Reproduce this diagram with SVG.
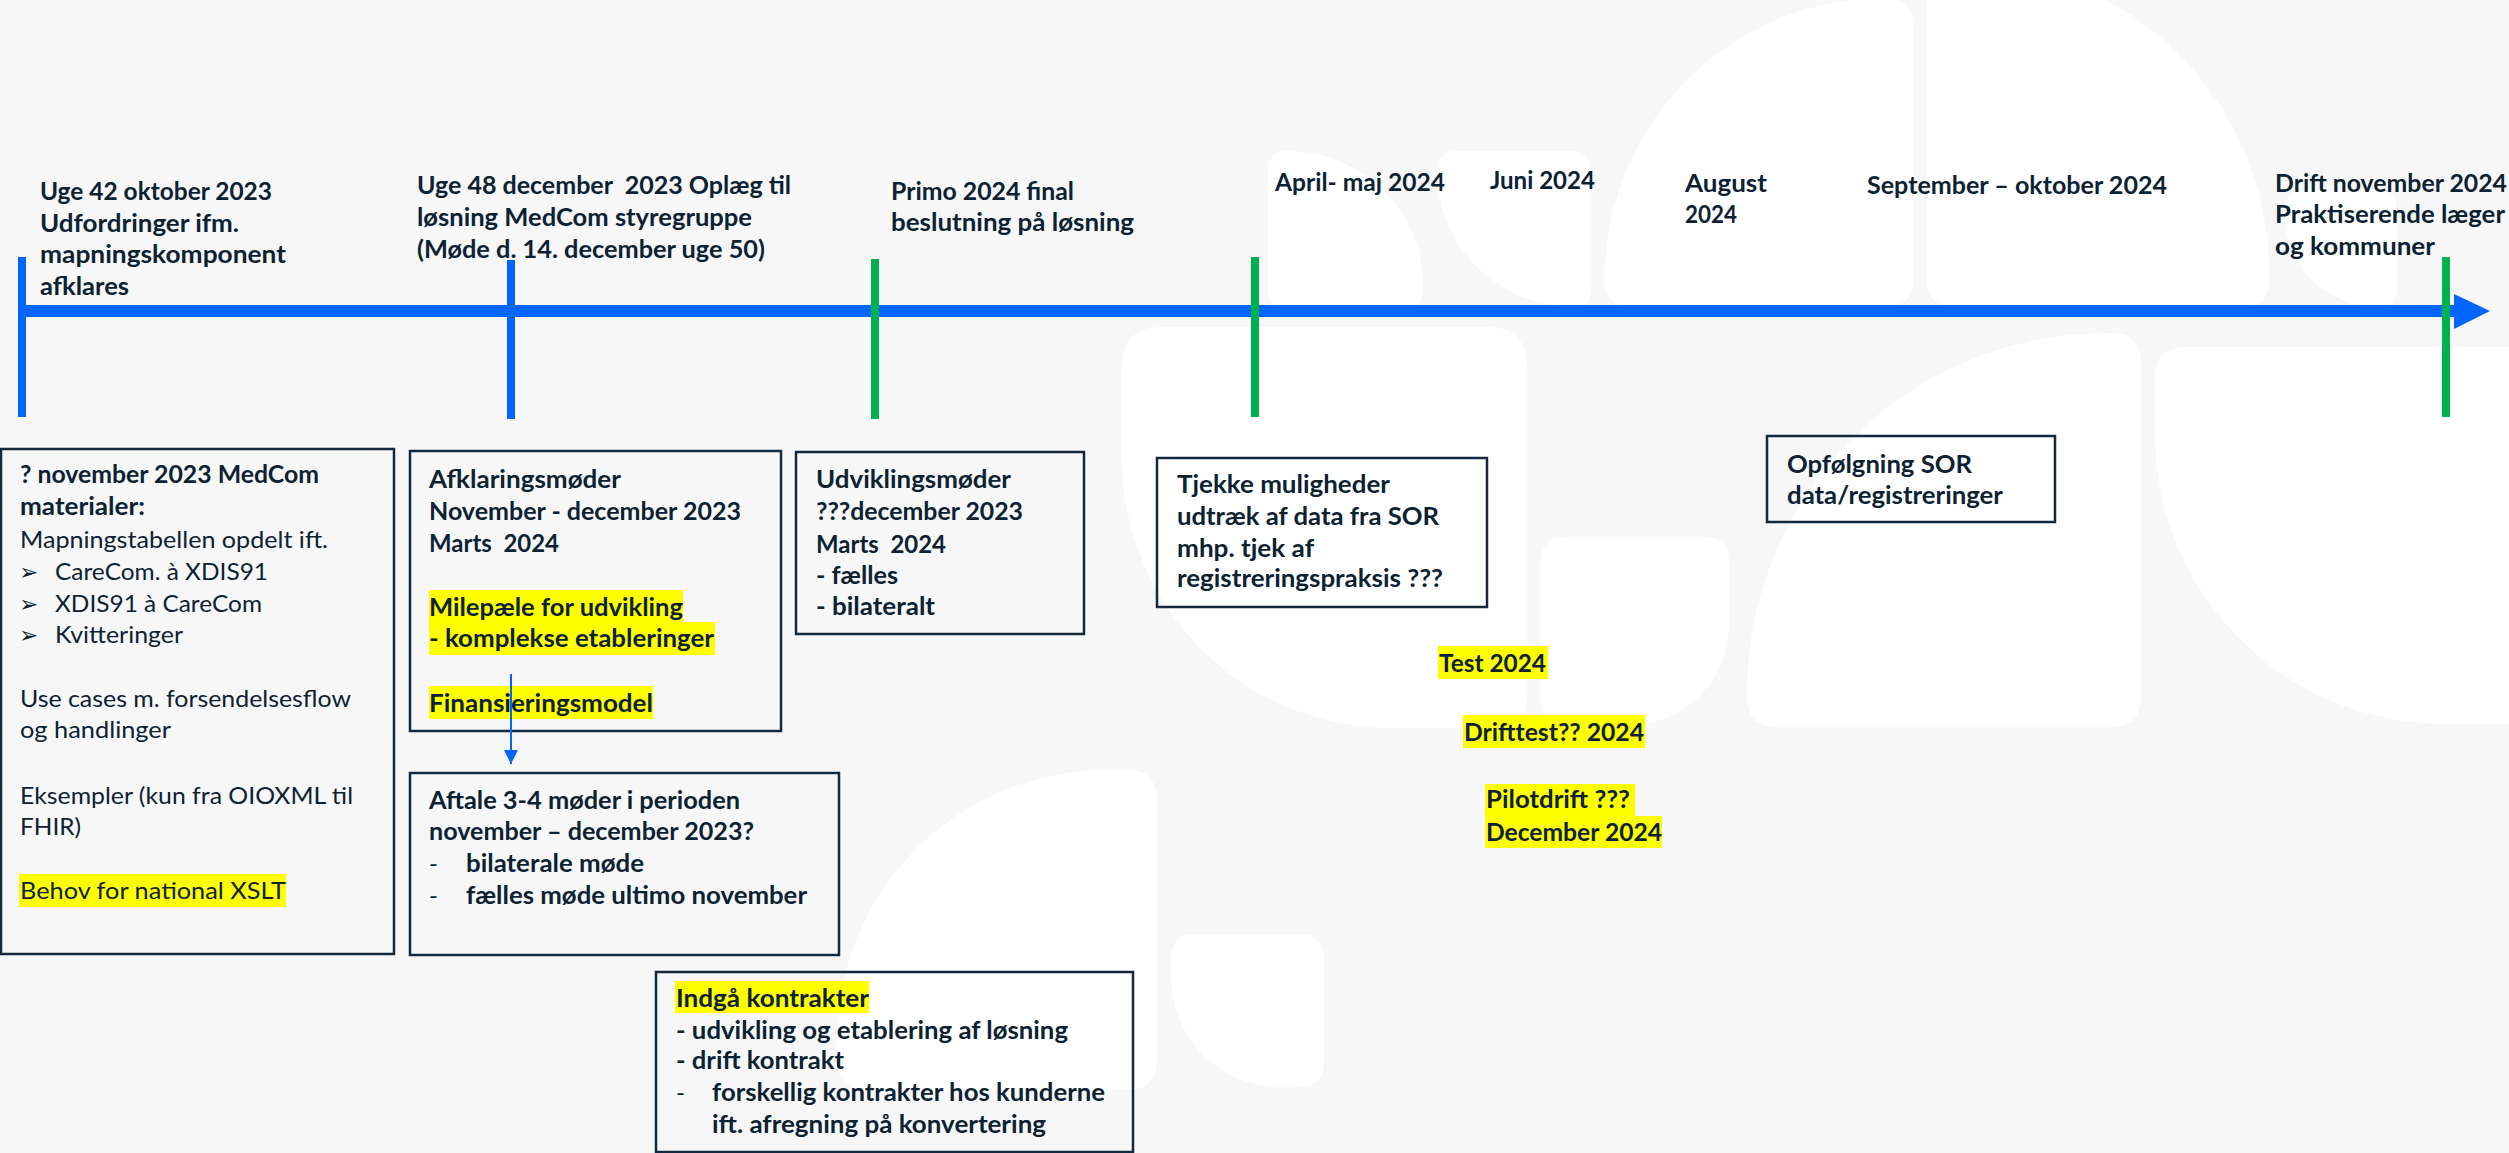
<svg xmlns="http://www.w3.org/2000/svg" width="2509" height="1153" viewBox="0 0 2509 1153">
<defs>
<style>
.bgshape{fill:#ffffff}
.box{fill:none;stroke:#13293d;stroke-width:2.5}
.t{font-family:Lato,"Open Sans","Liberation Sans",sans-serif;font-size:24px;font-weight:700;fill:#0c2233;white-space:pre}
.r{font-weight:400}
.hl{fill:#ffff00}
.bul{font-family:"DejaVu Sans",sans-serif;font-size:23px;fill:#0c2233}
.blue{fill:#0066ff}
.green{fill:#00b050}
.conn{stroke:#0066ff;stroke-width:2;fill:none}
</style>
<marker id="ah" viewBox="0 0 10 10" refX="10" refY="5" markerWidth="7.5" markerHeight="7" markerUnits="strokeWidth" orient="auto">
<path d="M0,0 L10,5 L0,10 z" fill="#0066ff"/>
</marker>
</defs>

<g id="background">
<rect x="0" y="0" width="2509" height="1153" fill="#f7f7f7"/>
<path class="bgshape" d="M1162,327 L1487,327 Q1527,327 1527,367 L1527,698 Q1527,728 1497,728 L1392,728 A270 270 0 0 1 1122,458 L1122,367 Q1122,327 1162,327 Z"/>
<path class="bgshape" d="M1268,171 Q1268,151 1288,151 A135 135 0 0 1 1423,286 L1423,291 Q1423,306 1408,306 L1283,306 Q1268,306 1268,291 Z"/>
<path class="bgshape" d="M1457,151 L1571,151 Q1591,151 1591,171 L1591,291 Q1591,306 1576,306 L1572,306 A135 135 0 0 1 1437,171 Q1437,151 1457,151 Z"/>
<path class="bgshape" d="M1605,278 A280 280 0 0 1 1885,-2 Q1913,-2 1913,26 L1913,281 Q1913,306 1888,306 L1630,306 Q1605,306 1605,281 Z"/>
<path class="bgshape" d="M1927,-37 L1959,-37 A310 310 0 0 1 2269,273 L2269,281 Q2269,306 2244,306 L1952,306 Q1927,306 1927,281 Z"/>
<path class="bgshape" d="M2305,190 L2377,190 Q2397,190 2397,210 L2397,291 Q2397,306 2382,306 L2375,306 A90 90 0 0 1 2285,216 L2285,210 Q2285,190 2305,190 Z"/>
<path class="bgshape" d="M1747,693 A360 360 0 0 1 2107,333 L2111,333 Q2141,333 2141,363 L2141,697 Q2141,727 2111,727 L1777,727 Q1747,727 1747,697 Z"/>
<path class="bgshape" d="M2185,347 L2520,347 L2520,724 L2445,724 A290 290 0 0 1 2155,434 L2155,377 Q2155,347 2185,347 Z"/>
<path class="bgshape" d="M1566,537 L1704,537 Q1729,537 1729,562 L1729,625 A100 100 0 0 1 1629,725 L1566,725 Q1541,725 1541,700 L1541,562 Q1541,537 1566,537 Z"/>
<path class="bgshape" d="M837,1040 A270 270 0 0 1 1107,770 L1127,770 Q1157,770 1157,800 L1157,1060 Q1157,1090 1127,1090 L867,1090 Q837,1090 837,1060 Z"/>
<path class="bgshape" d="M1196,934 L1299,934 Q1324,934 1324,959 L1324,1062 Q1324,1087 1299,1087 L1281,1087 A110 110 0 0 1 1171,977 L1171,959 Q1171,934 1196,934 Z"/>
</g>

<g id="timeline">
<rect class="blue" x="20" y="305" width="2436" height="12"/>
<polygon class="blue" points="2454,294 2490,311 2454,329"/>
<rect class="blue" x="18" y="257" width="8" height="160"/>
<rect class="blue" x="507" y="260" width="8" height="159"/>
<rect class="green" x="871" y="259" width="8" height="160"/>
<rect class="green" x="1251" y="257" width="8" height="160"/>
<rect class="green" x="2442" y="257" width="8" height="160"/>
</g>

<g id="label-uge42">
<text class="t" x="40" y="200" textLength="232" lengthAdjust="spacingAndGlyphs">Uge 42 oktober 2023</text>
<text class="t" x="40" y="231.5" textLength="199" lengthAdjust="spacingAndGlyphs">Udfordringer ifm.</text>
<text class="t" x="40" y="263" textLength="246" lengthAdjust="spacingAndGlyphs">mapningskomponent</text>
<text class="t" x="40" y="294.5" textLength="89" lengthAdjust="spacingAndGlyphs">afklares</text>
</g>

<g id="label-uge48">
<text class="t" x="417" y="194" textLength="374" lengthAdjust="spacingAndGlyphs">Uge 48 december  2023 Oplæg til</text>
<text class="t" x="417" y="226" textLength="335" lengthAdjust="spacingAndGlyphs">løsning MedCom styregruppe</text>
<text class="t" x="417" y="258" textLength="348" lengthAdjust="spacingAndGlyphs">(Møde d. 14. december uge 50)</text>
</g>

<g id="label-primo">
<text class="t" x="891" y="200" textLength="183" lengthAdjust="spacingAndGlyphs">Primo 2024 final</text>
<text class="t" x="891" y="231" textLength="243" lengthAdjust="spacingAndGlyphs">beslutning på løsning</text>
</g>

<g id="label-april">
<text class="t" x="1275" y="191" textLength="170" lengthAdjust="spacingAndGlyphs">April- maj 2024</text>
</g>

<g id="label-juni">
<text class="t" x="1490" y="189" textLength="105" lengthAdjust="spacingAndGlyphs">Juni 2024</text>
</g>

<g id="label-august">
<text class="t" x="1685" y="192" textLength="82" lengthAdjust="spacingAndGlyphs">August</text>
<text class="t" x="1685" y="223" textLength="52" lengthAdjust="spacingAndGlyphs">2024</text>
</g>

<g id="label-september">
<text class="t" x="1867" y="194" textLength="300" lengthAdjust="spacingAndGlyphs">September – oktober 2024</text>
</g>

<g id="label-drift">
<text class="t" x="2275" y="192" textLength="232" lengthAdjust="spacingAndGlyphs">Drift november 2024</text>
<text class="t" x="2275" y="223" textLength="230" lengthAdjust="spacingAndGlyphs">Praktiserende læger</text>
<text class="t" x="2275" y="255" textLength="160" lengthAdjust="spacingAndGlyphs">og kommuner</text>
</g>

<g id="box-medcom">
<rect class="box" x="1" y="449" width="393" height="505"/>
<rect class="hl" x="19" y="874" width="267" height="33"/>
<text class="t" x="20" y="483" textLength="299" lengthAdjust="spacingAndGlyphs">? november 2023 MedCom</text>
<text class="t" x="20" y="515" textLength="125" lengthAdjust="spacingAndGlyphs">materialer:</text>
<text class="t r" x="20" y="548" textLength="308" lengthAdjust="spacingAndGlyphs">Mapningstabellen opdelt ift.</text>
<text class="bul" x="19" y="580">➢</text>
<text class="t r" x="55" y="580" textLength="213" lengthAdjust="spacingAndGlyphs">CareCom. à XDIS91</text>
<text class="bul" x="19" y="612">➢</text>
<text class="t r" x="55" y="612" textLength="207" lengthAdjust="spacingAndGlyphs">XDIS91 à CareCom</text>
<text class="bul" x="19" y="643">➢</text>
<text class="t r" x="55" y="643" textLength="128" lengthAdjust="spacingAndGlyphs">Kvitteringer</text>
<text class="t r" x="20" y="707" textLength="331" lengthAdjust="spacingAndGlyphs">Use cases m. forsendelsesflow</text>
<text class="t r" x="20" y="738" textLength="151" lengthAdjust="spacingAndGlyphs">og handlinger</text>
<text class="t r" x="20" y="804" textLength="333" lengthAdjust="spacingAndGlyphs">Eksempler (kun fra OIOXML til</text>
<text class="t r" x="20" y="835" textLength="61" lengthAdjust="spacingAndGlyphs">FHIR)</text>
<text class="t r" x="20" y="899" textLength="266" lengthAdjust="spacingAndGlyphs">Behov for national XSLT</text>
</g>

<g id="box-afklaring">
<rect class="box" x="410" y="451" width="371" height="280"/>
<rect class="hl" x="429" y="590" width="254" height="32"/>
<rect class="hl" x="429" y="622" width="286" height="33"/>
<rect class="hl" x="429" y="686" width="224" height="33"/>
<text class="t" x="429" y="488" textLength="192" lengthAdjust="spacingAndGlyphs">Afklaringsmøder</text>
<text class="t" x="429" y="520" textLength="312" lengthAdjust="spacingAndGlyphs">November - december 2023</text>
<text class="t" x="429" y="552" textLength="130" lengthAdjust="spacingAndGlyphs">Marts  2024</text>
<text class="t" x="429" y="616" textLength="254" lengthAdjust="spacingAndGlyphs">Milepæle for udvikling</text>
<text class="t" x="429" y="647" textLength="285" lengthAdjust="spacingAndGlyphs">- komplekse etableringer</text>
<text class="t" x="429" y="712" textLength="224" lengthAdjust="spacingAndGlyphs">Finansieringsmodel</text>
</g>

<g id="box-aftale">
<rect class="box" x="410" y="773" width="429" height="182"/>
<text class="t" x="429" y="809" textLength="311" lengthAdjust="spacingAndGlyphs">Aftale 3-4 møder i perioden</text>
<text class="t" x="429" y="840" textLength="325" lengthAdjust="spacingAndGlyphs">november – december 2023?</text>
<text class="t r" x="429" y="872">-</text>
<text class="t" x="466" y="872" textLength="178" lengthAdjust="spacingAndGlyphs">bilaterale møde</text>
<text class="t r" x="429" y="904">-</text>
<text class="t" x="466" y="904" textLength="341" lengthAdjust="spacingAndGlyphs">fælles møde ultimo november</text>
</g>

<g id="box-udvikling">
<rect class="box" x="796" y="452" width="288" height="182"/>
<text class="t" x="816" y="488" textLength="195" lengthAdjust="spacingAndGlyphs">Udviklingsmøder</text>
<text class="t" x="816" y="520" textLength="207" lengthAdjust="spacingAndGlyphs">???december 2023</text>
<text class="t" x="816" y="553" textLength="130" lengthAdjust="spacingAndGlyphs">Marts  2024</text>
<text class="t" x="816" y="584" textLength="82" lengthAdjust="spacingAndGlyphs">- fælles</text>
<text class="t" x="816" y="615" textLength="119" lengthAdjust="spacingAndGlyphs">- bilateralt</text>
</g>

<g id="box-tjekke">
<rect class="box" x="1157" y="458" width="330" height="149"/>
<text class="t" x="1177" y="493" textLength="213" lengthAdjust="spacingAndGlyphs">Tjekke muligheder</text>
<text class="t" x="1177" y="525" textLength="262" lengthAdjust="spacingAndGlyphs">udtræk af data fra SOR</text>
<text class="t" x="1177" y="557" textLength="137" lengthAdjust="spacingAndGlyphs">mhp. tjek af</text>
<text class="t" x="1177" y="587" textLength="266" lengthAdjust="spacingAndGlyphs">registreringspraksis ???</text>
</g>

<g id="label-test">
<rect class="hl" x="1438" y="646" width="110" height="33"/>
<text class="t" x="1439" y="672" textLength="107" lengthAdjust="spacingAndGlyphs">Test 2024</text>
</g>

<g id="label-drifttest">
<rect class="hl" x="1463" y="715" width="182" height="33"/>
<text class="t" x="1464" y="741" textLength="180" lengthAdjust="spacingAndGlyphs">Drifttest?? 2024</text>
</g>

<g id="label-pilotdrift">
<rect class="hl" x="1485" y="784" width="150" height="32"/>
<rect class="hl" x="1485" y="816" width="177" height="32"/>
<text class="t" x="1486" y="808" textLength="144" lengthAdjust="spacingAndGlyphs">Pilotdrift ???</text>
<text class="t" x="1486" y="841" textLength="176" lengthAdjust="spacingAndGlyphs">December 2024</text>
</g>

<g id="box-opfolgning">
<rect class="box" x="1767" y="436" width="288" height="86"/>
<text class="t" x="1787" y="473" textLength="185" lengthAdjust="spacingAndGlyphs">Opfølgning SOR</text>
<text class="t" x="1787" y="504" textLength="216" lengthAdjust="spacingAndGlyphs">data/registreringer</text>
</g>

<g id="box-kontrakter">
<rect class="box" x="656" y="972" width="477" height="180"/>
<rect class="hl" x="675" y="981" width="194" height="32"/>
<text class="t" x="676" y="1007" textLength="193" lengthAdjust="spacingAndGlyphs">Indgå kontrakter</text>
<text class="t" x="676" y="1039" textLength="392" lengthAdjust="spacingAndGlyphs">- udvikling og etablering af løsning</text>
<text class="t" x="676" y="1069" textLength="168" lengthAdjust="spacingAndGlyphs">- drift kontrakt</text>
<text class="t r" x="676" y="1101">-</text>
<text class="t" x="712" y="1101" textLength="393" lengthAdjust="spacingAndGlyphs">forskellig kontrakter hos kunderne</text>
<text class="t" x="712" y="1133" textLength="334" lengthAdjust="spacingAndGlyphs">ift. afregning på konvertering</text>
</g>

<g id="connectors">
<line class="conn" x1="511" y1="674" x2="511" y2="764" marker-end="url(#ah)"/>
</g>
</svg>
